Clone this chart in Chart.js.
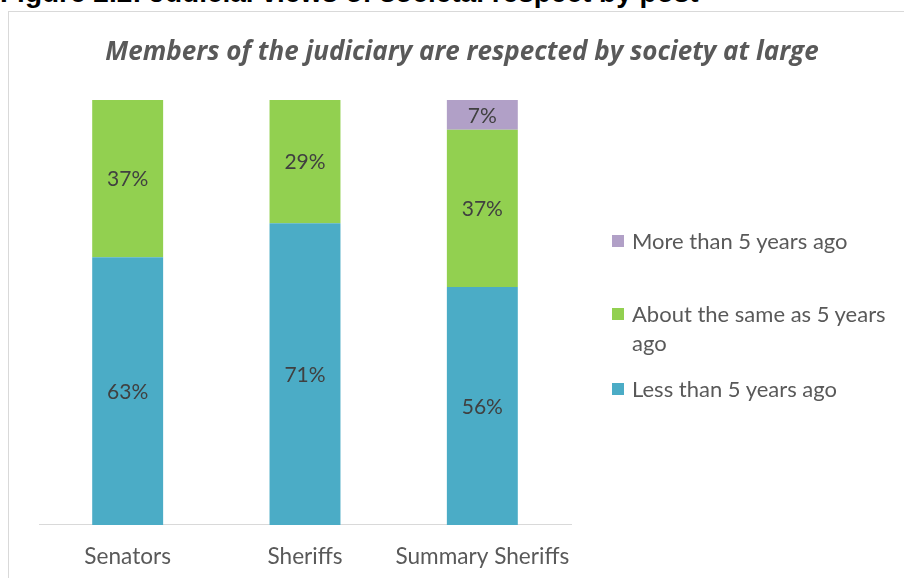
<!DOCTYPE html>
<html>
<head>
<meta charset="utf-8">
<script src="https://cdn.jsdelivr.net/npm/chart.js@4/dist/chart.umd.min.js"></script>
<style>
  body { margin: 0; background: #fff; width: 904px; height: 578px; overflow: hidden; position: relative; font-family: Lato, "Open Sans", sans-serif; }
  .fig-title { position: absolute; left: 0; top: -21px; font: bold 28px/1 "Liberation Sans", Arial, sans-serif; color: #000; white-space: nowrap; }
  .frame { position: absolute; left: 8px; top: 11px; width: 910px; height: 580px; border: 1px solid #d9d9d9; box-sizing: border-box; background: #fff; overflow: hidden; }
  .frame canvas { position: absolute; left: 0; top: 0; }
  .chart-title { position: absolute; left: 0; width: 906px; top: 20px; text-align: center; font: italic bold 26px "Open Sans", Lato, sans-serif; color: #595959; white-space: nowrap; }
  .legend { position: absolute; left: 603px; top: 0; width: 280px; font-size: 22px; color: #595959; line-height: 29px; }
  .legend div { position: absolute; left: 0; padding-left: 20px; width: 258px; }
  .legend span { position: absolute; left: 0; top: 9px; width: 12px; height: 12px; }
</style>
</head>
<body>
<div class="fig-title">Figure 2.2: Judicial views of societal respect by post</div>
<div class="frame">
  <canvas id="respectChart" width="895" height="578"></canvas>
  <div class="chart-title">Members of the judiciary are respected by society at large</div>
  <div class="legend" id="legend"></div>
</div>
<script>
const posts = ['Senators', 'Sheriffs', 'Summary Sheriffs'];
const lessThan5 = [63, 71, 56];
const aboutSame = [37, 29, 37];
const moreThan5 = [null, null, 7];
const seriesNames = ['Less than 5 years ago', 'About the same as 5 years ago', 'More than 5 years ago'];
const seriesColors = ['#4bacc6', '#92d050', '#b1a0c7'];

const barLabels = {
  id: 'barLabels',
  afterDatasetsDraw(chart) {
    const ctx = chart.ctx;
    ctx.save();
    ctx.font = '21px Lato, "Open Sans", sans-serif';
    ctx.fillStyle = '#404040';
    ctx.textAlign = 'center';
    ctx.textBaseline = 'middle';
    chart.data.datasets.forEach((ds, i) => {
      chart.getDatasetMeta(i).data.forEach((bar, j) => {
        const v = ds.data[j];
        if (v == null) return;
        ctx.fillText(v + '%', bar.x, (bar.y + bar.base) / 2 + 1);
      });
    });
    ctx.restore();
  }
};

new Chart(document.querySelector('#respectChart'), {
  type: 'bar',
  data: {
    labels: posts,
    datasets: [
      { label: seriesNames[0], data: lessThan5, backgroundColor: seriesColors[0] },
      { label: seriesNames[1], data: aboutSame, backgroundColor: seriesColors[1] },
      { label: seriesNames[2], data: moreThan5, backgroundColor: seriesColors[2] }
    ]
  },
  options: {
    responsive: false,
    animation: false,
    categoryPercentage: 1,
    barPercentage: 0.4,
    layout: { padding: { left: 30, right: 333, top: 88, bottom: 2 } },
    plugins: {
      legend: { display: false },
      tooltip: { enabled: false }
    },
    scales: {
      x: {
        stacked: true,
        grid: { display: false, drawTicks: false },
        border: { color: '#d9d9d9', width: 1 },
        ticks: {
          color: '#595959',
          font: { family: 'Lato, "Open Sans", sans-serif', size: 22.6 },
          padding: 18,
          maxRotation: 0,
          minRotation: 0,
          autoSkip: false
        }
      },
      y: {
        stacked: true,
        display: false,
        min: 0,
        max: 100
      }
    }
  },
  plugins: [barLabels]
});

// legend, listed top to bottom in reverse series order
const legendTops = [214, 287, 362];
const legendEl = document.getElementById('legend');
[2, 1, 0].forEach((s, k) => {
  const item = document.createElement('div');
  item.style.top = legendTops[k] + 'px';
  item.innerHTML = '<span style="background:' + seriesColors[s] + '"></span>' + seriesNames[s];
  legendEl.appendChild(item);
});
</script>
</body>
</html>
